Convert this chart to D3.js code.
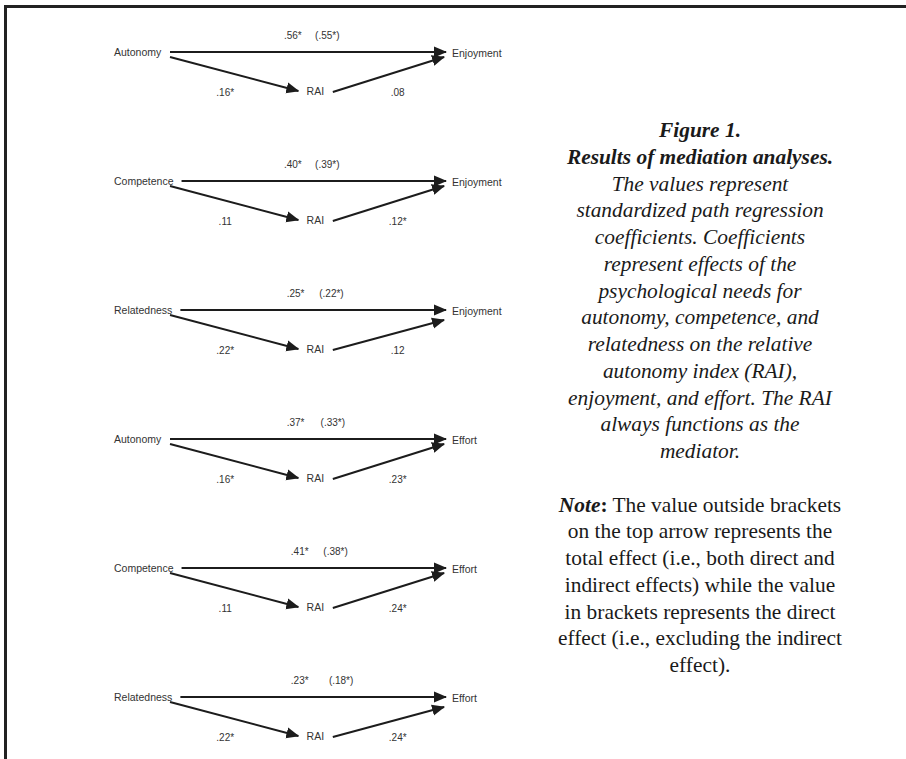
<!DOCTYPE html>
<html>
<head>
<meta charset="utf-8">
<script src="https://cdn.jsdelivr.net/npm/d3@7/dist/d3.min.js"></script>
<style>
  html, body { margin: 0; padding: 0; background: #fff; }
  svg { display: block; }
</style>
</head>
<body>
<svg id="chart" width="906" height="759"></svg>
<script>
// ---------- data ----------
const predictors   = ["Autonomy", "Competence", "Relatedness", "Autonomy", "Competence", "Relatedness"];
const outcomes     = ["Enjoyment", "Enjoyment", "Enjoyment", "Effort", "Effort", "Effort"];
const mediatorName = "RAI";
const totalEffects = [".56*", ".40*", ".25*", ".37*", ".41*", ".23*"];
const directEffects= ["(.55*)", "(.39*)", "(.22*)", "(.33*)", "(.38*)", "(.18*)"];
const aPaths       = [".16*", ".11", ".22*", ".16*", ".11", ".22*"];
const bPaths       = [".08", ".12*", ".12", ".23*", ".24*", ".24*"];

const captionTitle = ["Figure 1.", "Results of mediation analyses."];
const captionBody  = [
  "The values represent",
  "standardized path regression",
  "coefficients. Coefficients",
  "represent effects of the",
  "psychological needs for",
  "autonomy, competence, and",
  "relatedness on the relative",
  "autonomy index (RAI),",
  "enjoyment, and effort. The RAI",
  "always functions as the",
  "mediator."
];
const noteLead = "Note";
const noteBody = [
  " The value outside brackets",
  "on the top arrow represents the",
  "total effect (i.e., both direct and",
  "indirect effects) while the value",
  "in brackets represents the direct",
  "effect (i.e., excluding the indirect",
  "effect)."
];

// ---------- layout (kept apart from the data) ----------
const rowIdx = d3.range(predictors.length);
const y = d3.scalePoint().domain(rowIdx).range([52, 697]);
// horizontal diagram units: 0 = left node, 100 = right arrow tip
const x = d3.scaleLinear().domain([0, 100]).range([170, 446]);
const topTotalX  = [44.5, 44.5, 45.5, 45.5, 47, 47];
const topDirectX = [57, 57, 58.5, 59, 60, 62];
const bTipDrop   = [5, 5, 10, 5, 5, 10];

const ink = "#1c1c1c";
const svg = d3.select("#chart");

// frame
svg.append("line").attr("x1", 4).attr("x2", 906).attr("y1", 6.5).attr("y2", 6.5)
  .attr("stroke", "#222").attr("stroke-width", 3);
svg.append("line").attr("x1", 5.5).attr("x2", 5.5).attr("y1", 5).attr("y2", 759)
  .attr("stroke", "#222").attr("stroke-width", 3);

// arrow marker
svg.append("defs").append("marker")
  .attr("id", "arrow")
  .attr("markerUnits", "userSpaceOnUse")
  .attr("viewBox", "0 -6 13 12")
  .attr("refX", 12).attr("refY", 0)
  .attr("markerWidth", 13).attr("markerHeight", 12)
  .attr("orient", "auto")
  .append("path").attr("d", "M0,-5.5L13,0L0,5.5Z").attr("fill", ink);

const diag = svg.append("g")
  .attr("font-family", "'Liberation Sans', Arial, sans-serif")
  .attr("fill", "#333");

rowIdx.forEach(i => {
  const Y = y(i);
  const g = diag.append("g");

  // predictor label
  const pl = g.append("text").attr("x", 114).attr("y", Y).attr("dy", "0.35em")
    .attr("font-size", 10.5).text(predictors[i]);
  const textEnd = 114 + pl.node().getComputedTextLength();

  // outcome label
  g.append("text").attr("x", x(100) + 6).attr("y", Y + 1).attr("dy", "0.35em")
    .attr("font-size", 10.5).text(outcomes[i]);

  // mediator label
  g.append("text").attr("x", x(49.5)).attr("y", Y + 39).attr("dy", "0.35em")
    .attr("font-size", 10.5).text(mediatorName);

  // direct / total path (top arrow)
  g.append("line")
    .attr("x1", Math.max(textEnd + 8, x(0))).attr("y1", Y)
    .attr("x2", x(100)).attr("y2", Y)
    .attr("stroke", ink).attr("stroke-width", 2)
    .attr("marker-end", "url(#arrow)");

  // a path
  g.append("line")
    .attr("x1", x(0)).attr("y1", Y + 5)
    .attr("x2", x(46.5)).attr("y2", Y + 39)
    .attr("stroke", ink).attr("stroke-width", 2)
    .attr("marker-end", "url(#arrow)");

  // b path
  g.append("line")
    .attr("x1", x(59)).attr("y1", Y + 40)
    .attr("x2", x(99.3)).attr("y2", Y + bTipDrop[i])
    .attr("stroke", ink).attr("stroke-width", 2)
    .attr("marker-end", "url(#arrow)");

  // coefficients
  g.append("text").attr("x", x(topTotalX[i])).attr("y", Y - 17).attr("dy", "0.35em")
    .attr("text-anchor", "middle").attr("font-size", 10).text(totalEffects[i]);
  g.append("text").attr("x", x(topDirectX[i])).attr("y", Y - 17).attr("dy", "0.35em")
    .attr("text-anchor", "middle").attr("font-size", 10).text(directEffects[i]);
  g.append("text").attr("x", x(20)).attr("y", Y + 40).attr("dy", "0.35em")
    .attr("text-anchor", "middle").attr("font-size", 10).text(aPaths[i]);
  g.append("text").attr("x", x(82.5)).attr("y", Y + 40).attr("dy", "0.35em")
    .attr("text-anchor", "middle").attr("font-size", 10).text(bPaths[i]);
});

// ---------- caption ----------
const fs = 21.4;
const cap = svg.append("text")
  .attr("font-family", "'Liberation Serif', 'Times New Roman', serif")
  .attr("font-size", fs)
  .attr("fill", "#1a1a1a")
  .attr("text-anchor", "middle");
const cx = 700, base = 137, step = 26.75;
let line = 0;
captionTitle.forEach(t => {
  cap.append("tspan").attr("x", cx).attr("y", base + step * line++)
    .attr("font-style", "italic").attr("font-weight", "bold").text(t);
});
captionBody.forEach(t => {
  cap.append("tspan").attr("x", cx).attr("y", base + step * line++)
    .attr("font-style", "italic").text(t);
});
line++; // blank line
noteBody.forEach((t, k) => {
  const ty = base + step * line++;
  if (k === 0) {
    const tx = svg.append("text")
      .attr("font-family", "'Liberation Serif', 'Times New Roman', serif")
      .attr("font-size", fs).attr("fill", "#1a1a1a")
      .attr("text-anchor", "middle").attr("x", cx).attr("y", ty);
    tx.append("tspan").attr("font-style", "italic").attr("font-weight", "bold").text(noteLead);
    tx.append("tspan").attr("font-weight", "bold").text(":");
    tx.append("tspan").text(t);
  } else {
    cap.append("tspan").attr("x", cx).attr("y", ty).text(t);
  }
});
</script>
</body>
</html>
